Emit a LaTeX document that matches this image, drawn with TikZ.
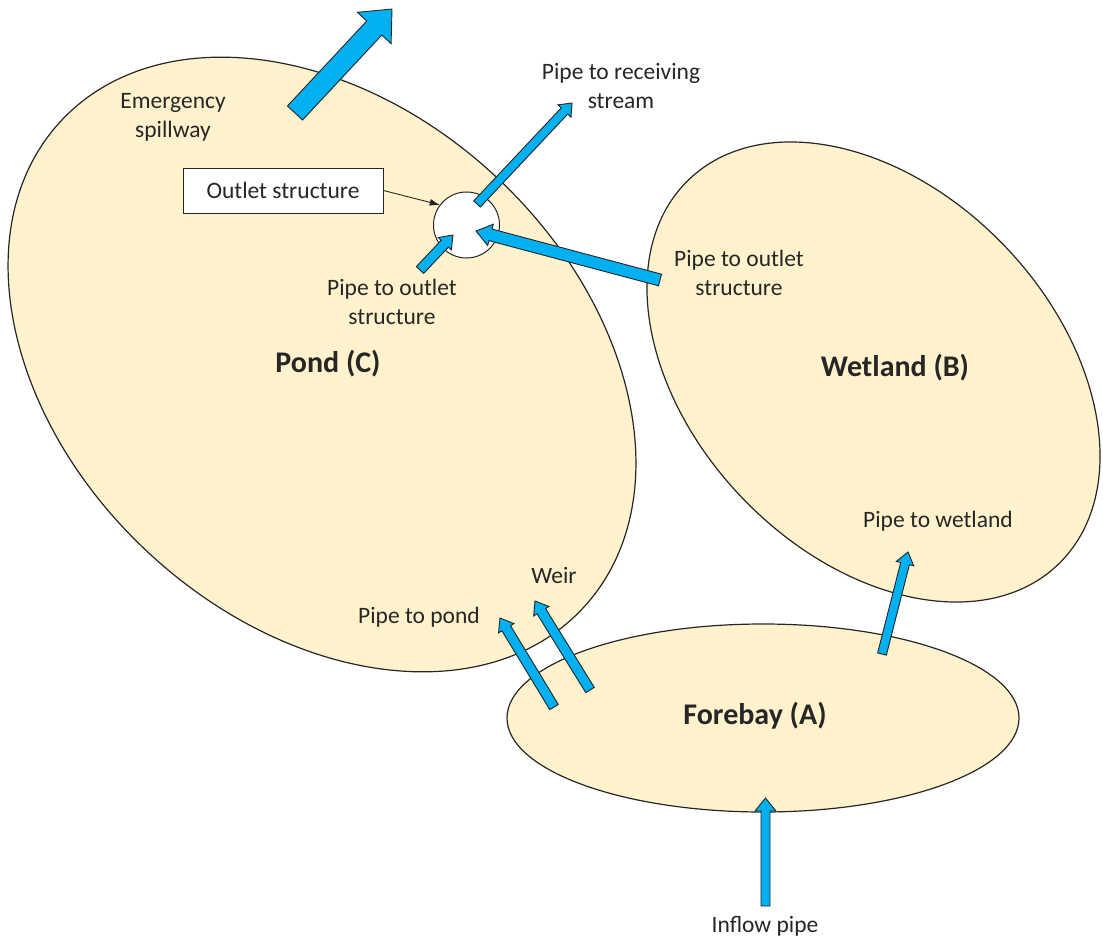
\documentclass[tikz,border=0pt]{standalone}
\usepackage{fontspec}
\setmainfont{Carlito}
\usetikzlibrary{calc,arrows.meta}
\definecolor{pondfill}{HTML}{FFF2CC}
\definecolor{pipeblue}{HTML}{00B0F0}
\definecolor{txt}{HTML}{262626}
% #1 name, #2 tail, #3 tip, #4 half shaft width, #5 half head width, #6 head length
\newcommand\blockarrow[6]{%
  \coordinate (#1-t) at #2;
  \coordinate (#1-h) at #3;
  \coordinate (#1-b) at ($(#1-h)!#6!(#1-t)$);
  \filldraw[pipe] ($(#1-t)!#4!90:(#1-h)$) -- ($(#1-b)!#4!-90:(#1-t)$)
    -- ($(#1-b)!#5!-90:(#1-t)$) -- (#1-h) -- ($(#1-b)!#5!90:(#1-t)$)
    -- ($(#1-b)!#4!90:(#1-t)$) -- ($(#1-t)!#4!-90:(#1-h)$) -- cycle;
}
\begin{document}
\begin{tikzpicture}[x=1pt,y=1pt,
  basin/.style={draw=black!85, fill=pondfill, line width=1.2pt},
  pipe/.style={draw=black!85, fill=pipeblue, line width=0.9pt, line join=miter},
  lbl/.style={text=txt, font=\fontsize{23.5}{29}\selectfont, align=center, inner sep=0pt},
  title/.style={text=txt, font=\fontsize{30}{36}\selectfont\bfseries, inner sep=0pt},
  boxed/.style={draw=black!85, fill=white, line width=1pt}
]
\useasboundingbox (0,0) rectangle (1103,-939);

% basins
\draw[basin, rotate around={-43.1:(322,-364.5)}] (322,-364.5) ellipse [x radius=357pt, y radius=256pt];
\draw[basin, rotate around={-46.2:(873.5,-372)}] (873.5,-372) ellipse [x radius=266.7pt, y radius=181.9pt];
\draw[basin] (763,-718) ellipse [x radius=256pt, y radius=94pt];

% outlet structure
\node[boxed, circle, minimum size=66pt, inner sep=0pt] (outlet) at (466.5,-225) {};

% pipes
\blockarrow{spill}{(295,-113)}{(392,-9)}{10.3pt}{23pt}{26pt}
\blockarrow{recv}{(477,-204)}{(572,-103)}{4.5pt}{9pt}{11pt}
\blockarrow{pondout}{(420,-270)}{(453,-235)}{5pt}{9pt}{12pt}
\blockarrow{wetout}{(660,-280)}{(476,-231)}{6pt}{11pt}{15pt}
\blockarrow{topond}{(554,-707)}{(500,-618)}{5pt}{9pt}{12pt}
\blockarrow{weir}{(590,-690)}{(535,-601)}{5pt}{9pt}{12pt}
\blockarrow{towet}{(882,-654)}{(908,-552)}{4.5pt}{9pt}{12pt}
\blockarrow{inflow}{(765.5,-906)}{(765.5,-798)}{4.5pt}{10.5pt}{13pt}

% outlet structure callout
\node[boxed, lbl, minimum width=200pt, minimum height=45pt] (obox) at (283,-190.5) {Outlet structure};
\draw[line width=0.9pt, draw=black!85, -{Latex[length=10pt,width=7pt]}] (obox.east) -- (outlet.143);

% labels
\node[lbl] (lspill) at (173,-117) {Emergency\\spillway};
\node[lbl] (lrecv) at (621,-86) {Pipe to receiving\\stream};
\node[lbl] (lpondout) at (392,-302) {Pipe to outlet\\structure};
\node[lbl] (lwetout) at (739,-273) {Pipe to outlet\\structure};
\node[title] (lpond) at (328,-364) {Pond (C)};
\node[title] (lwet) at (895,-368) {Wetland (B)};
\node[lbl] (ltowet) at (938,-521) {Pipe to wetland};
\node[lbl] (lweir) at (554,-575) {Weir};
\node[lbl] (ltopond) at (419,-617) {Pipe to pond};
\node[title] (lfore) at (755,-716) {Forebay (A)};
\node[lbl] (linflow) at (765,-926) {Inflow pipe};
\end{tikzpicture}
\end{document}
